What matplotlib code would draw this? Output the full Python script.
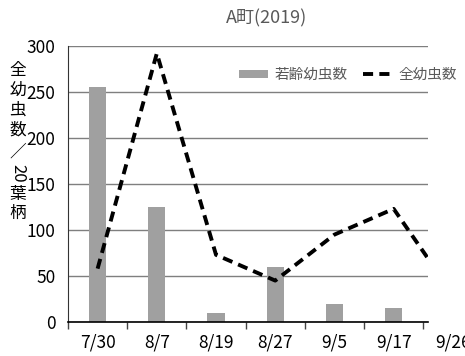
import matplotlib
matplotlib.use("Agg")
import matplotlib.pyplot as plt
import numpy as np

plt.rcParams["font.family"] = ["Liberation Sans Narrow", "Noto Sans CJK JP", "DejaVu Sans"]

DATES = ["7/30", "8/7", "8/19", "8/27", "9/5", "9/17", "9/26"]
YOUNG = [255, 125, 10, 60, 20, 15, 0]      # 若齢幼虫数
TOTAL = [58, 292, 73, 45, 95, 123, 30]     # 全幼虫数
YTICKS = [0, 50, 100, 150, 200, 250, 300]
TITLE = "A町(2019)"
YLABEL = ["全", "幼", "虫", "数", "／", "20", "葉", "柄"]

BAR_COLOR = "#a0a0a0"
GRID_COLOR = "#7f7f7f"
GRAY_TEXT = "#595959"


def main():
    fig = plt.figure(figsize=(4.65, 3.56), dpi=100)
    ax = fig.add_axes([68 / 465, 1 - 322 / 356, 360 / 465, 276 / 356])

    x = np.arange(len(DATES))
    bars = ax.bar(x, YOUNG, width=0.29, color=BAR_COLOR, zorder=2, label="若齢幼虫数")
    line, = ax.plot(x, TOTAL, color="black", linewidth=2.8, linestyle=(0, (2.6, 1.6)),
                    zorder=3, label="全幼虫数")

    ax.set_xlim(-0.5, 5.58)
    ax.set_ylim(0, 300)
    ax.set_yticks(YTICKS)
    ax.set_yticklabels([str(v) for v in YTICKS], fontsize=12.5)
    ax.tick_params(axis="y", length=0, pad=9)
    ax.grid(True, axis="y", color=GRID_COLOR, linewidth=1.0, zorder=0)
    ax.set_axisbelow(True)

    # category boundary ticks, labels under the category centres
    ax.set_xticks(np.arange(-0.5, 6, 1.0))
    ax.set_xticklabels([])
    ax.tick_params(axis="x", direction="out", length=5, width=1, color="#444444")
    for i, lbl in enumerate(DATES):
        ax.annotate(lbl, xy=(i, 0), xycoords=("data", "axes fraction"),
                    xytext=(0, -8), textcoords="offset points",
                    ha="center", va="top", fontsize=12.5, annotation_clip=False)

    for side in ("top", "right"):
        ax.spines[side].set_visible(False)
    ax.spines["left"].set_color("#333333")
    ax.spines["bottom"].set_color("black")
    ax.spines["bottom"].set_linewidth(1.2)

    fig.text(267 / 465, 1 - 18 / 356, TITLE, ha="center", va="center",
             fontsize=13, color=GRAY_TEXT)

    # vertical y-axis label, characters stacked upright
    ypos = [70, 90, 110, 130, 152, 173, 194, 213]
    for ch, yp in zip(YLABEL, ypos):
        fig.text(18 / 465, 1 - yp / 356, ch, ha="center", va="center",
                 fontsize=12, rotation=270 if ch == "20" else 0)

    leg = fig.legend([bars, line], ["若齢幼虫数", "全幼虫数"], loc="center left",
                     bbox_to_anchor=(232 / 465, 1 - 75 / 356),
                     ncol=2, frameon=False, fontsize=10.5, handlelength=2.0,
                     handleheight=0.5, handletextpad=0.4, columnspacing=1.1,
                     borderpad=0.0)
    for t in leg.get_texts():
        t.set_color(GRAY_TEXT)

    fig.savefig("out.png", dpi=100)
    plt.close(fig)


if __name__ == "__main__":
    main()
